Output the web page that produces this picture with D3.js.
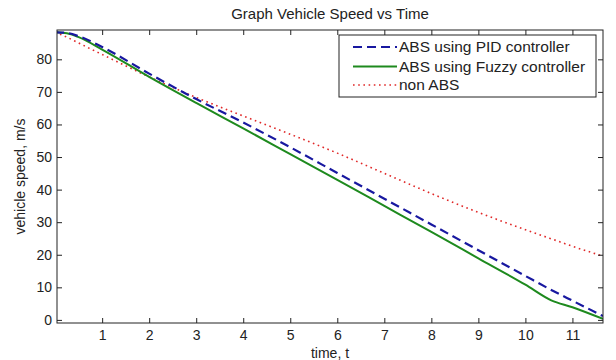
<!DOCTYPE html>
<html>
<head>
<meta charset="utf-8">
<script src="https://cdn.jsdelivr.net/npm/d3@7"></script>
<style>
  body { margin: 0; background: #fff; }
  svg { display: block; font-family: "Liberation Sans", Arial, sans-serif; }
</style>
</head>
<body>
<svg id="chart" width="616" height="360"></svg>
<script>
// ---- data ----
const time = [0, 0.25, 0.5, 1, 2, 3, 4, 5, 6, 7, 8, 9, 10, 10.55, 11, 11.65];
const pidSpeed   = [88.3, 88.1, 87.1, 83.8, 75.6, 67.8, 60.6, 53.0, 45.1, 37.2, 29.3, 21.4, 13.5, 9.2, 5.9, 1.2];
const fuzzySpeed = [88.3, 88.0, 86.8, 83.0, 74.6, 66.6, 58.8, 50.9, 43.0, 35.0, 27.0, 18.9, 10.8, 6.0, 3.9, 0.3];
const nonAbsSpeed = [88.3, 86.8, 85.0, 81.5, 74.6, 68.3, 62.6, 57.0, 51.2, 45.0, 38.8, 33.0, 27.7, 24.9, 22.6, 19.6];
const seriesNames = ["ABS using PID controller", "ABS using Fuzzy controller", "non ABS"];
const xTicks = [1, 2, 3, 4, 5, 6, 7, 8, 9, 10, 11];
const yTicks = [0, 10, 20, 30, 40, 50, 60, 70, 80];
const titleText = "Graph Vehicle Speed vs Time";
const xLabel = "time, t";
const yLabel = "vehicle speed, m/s";

// ---- layout ----
const L = 57, R = 603, T = 30, B = 323;
const fs = 14;
const svg = d3.select("#chart");
const x = d3.scaleLinear().domain([0.04, 11.65]).range([L, R]);
const y = d3.scaleLinear().domain([-0.95, 89]).range([B, T]);

const series = [
  { name: seriesNames[0], values: pidSpeed, color: "#1818a0", width: 2.2, dash: "9,5" },
  { name: seriesNames[1], values: fuzzySpeed, color: "#1e8a1e", width: 2, dash: null },
  { name: seriesNames[2], values: nonAbsSpeed, color: "#e02828", width: 1.6, dash: "1.6,3.6" }
];

// clip
svg.append("clipPath").attr("id", "clip").append("rect")
  .attr("x", L).attr("y", T).attr("width", R - L).attr("height", B - T);

const line = d3.line().x((d, i) => x(time[i])).y(d => y(d)).curve(d3.curveMonotoneX);
const plot = svg.append("g").attr("clip-path", "url(#clip)");
[series[2], series[1], series[0]].forEach(s => {
  plot.append("path").datum(s.values)
    .attr("d", line)
    .attr("fill", "none")
    .attr("stroke", s.color)
    .attr("stroke-width", s.width)
    .attr("stroke-dasharray", s.dash);
});

// axes with inward ticks
const tk = 5;
const xb = svg.append("g").attr("transform", `translate(0,${B})`)
  .call(d3.axisBottom(x).tickValues(xTicks).tickSize(-tk).tickPadding(7).tickFormat(d3.format("d")));
const xt = svg.append("g").attr("transform", `translate(0,${T})`)
  .call(d3.axisTop(x).tickValues(xTicks).tickSize(-tk).tickFormat(""));
const yl = svg.append("g").attr("transform", `translate(${L},0)`)
  .call(d3.axisLeft(y).tickValues(yTicks).tickSize(-tk).tickPadding(5).tickFormat(d3.format("d")));
const yr = svg.append("g").attr("transform", `translate(${R},0)`)
  .call(d3.axisRight(y).tickValues(yTicks).tickSize(-tk).tickFormat(""));
[xb, xt, yl, yr].forEach(g => {
  g.select(".domain").remove();
  g.selectAll("line").attr("stroke", "#222");
  g.selectAll("text").attr("font-size", fs).attr("fill", "#222").attr("font-family", "Liberation Sans, Arial, sans-serif");
});
// box
svg.append("rect").attr("x", L).attr("y", T).attr("width", R - L).attr("height", B - T)
  .attr("fill", "none").attr("stroke", "#222").attr("stroke-width", 1);

// title & labels
svg.append("text").attr("x", (L + R) / 2).attr("y", 19).attr("text-anchor", "middle")
  .attr("font-size", 15).attr("fill", "#222").text(titleText);
svg.append("text").attr("x", (L + R) / 2).attr("y", 357.5).attr("text-anchor", "middle")
  .attr("font-size", fs).attr("fill", "#222").text(xLabel);
svg.append("text").attr("transform", `translate(25,${(T + B) / 2}) rotate(-90)`)
  .attr("text-anchor", "middle").attr("font-size", fs).attr("fill", "#222").text(yLabel);

// legend
const lg = svg.append("g");
lg.append("rect").attr("x", 339).attr("y", 35).attr("width", 257).attr("height", 62)
  .attr("fill", "#fff").attr("stroke", "#222").attr("stroke-width", 1);
const rowsY = [47, 66.5, 85];
series.forEach((s, i) => {
  lg.append("line").attr("x1", 353).attr("x2", 397).attr("y1", rowsY[i]).attr("y2", rowsY[i])
    .attr("stroke", s.color).attr("stroke-width", s.width).attr("stroke-dasharray", s.dash);
  lg.append("text").attr("x", 399).attr("y", rowsY[i]).attr("dy", "0.35em")
    .attr("font-size", 15.5).attr("fill", "#222").text(s.name);
});
</script>
</body>
</html>
